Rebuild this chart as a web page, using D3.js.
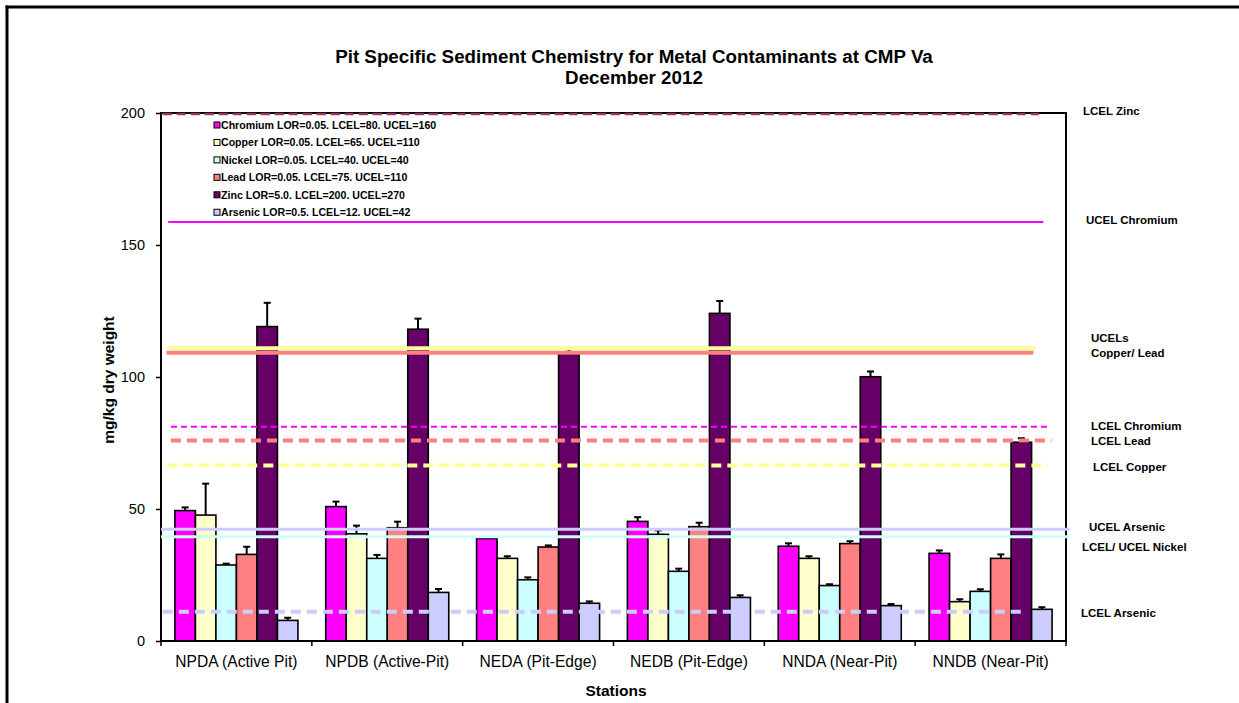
<!DOCTYPE html>
<html><head><meta charset="utf-8">
<script src="https://cdn.jsdelivr.net/npm/d3@7"></script>
<style>
html,body{margin:0;padding:0;background:#fff;}
svg{display:block;font-family:"Liberation Sans",Arial,sans-serif;}
</style></head>
<body>
<svg id="chart" width="1239" height="703"></svg>
<script>
// ---------- DATA ----------
const stations = ["NPDA (Active Pit)", "NPDB (Active-Pit)", "NEDA (Pit-Edge)", "NEDB (Pit-Edge)", "NNDA (Near-Pit)", "NNDB (Near-Pit)"];
const metals = ["Chromium", "Copper", "Nickel", "Lead", "Zinc", "Arsenic"];
const legendLabels = [
  "Chromium LOR=0.05. LCEL=80. UCEL=160",
  "Copper LOR=0.05. LCEL=65. UCEL=110",
  "Nickel LOR=0.05. LCEL=40. UCEL=40",
  "Lead LOR=0.05. LCEL=75. UCEL=110",
  "Zinc LOR=5.0. LCEL=200. UCEL=270",
  "Arsenic LOR=0.5. LCEL=12. UCEL=42"
];
// mean values per station (order of stations)
const chromium = [49.4, 50.9, 38.8, 45.3, 35.9, 33.2];
const copper   = [47.7, 40.6, 31.3, 40.4, 31.3, 14.9];
const nickel   = [28.8, 31.3, 23.2, 26.4, 21.0, 18.8];
const lead     = [32.8, 42.9, 35.6, 43.3, 36.9, 31.3];
const zinc     = [119.1, 118.1, 108.6, 124.1, 100.1, 75.3];
const arsenic  = [7.8, 18.4, 14.3, 16.5, 13.4, 12.0];
// error (upper) values
const chromiumErr = [1.2, 1.9, 0.0, 1.6, 1.1, 1.1];
const copperErr   = [11.9, 3.1, 0.8, 1.5, 0.8, 0.9];
const nickelErr   = [0.5, 1.3, 0.9, 1.0, 0.5, 0.8];
const leadErr     = [2.9, 2.3, 0.6, 1.5, 0.9, 1.5];
const zincErr     = [9.0, 4.0, 1.9, 4.7, 2.0, 1.5];
const arsenicErr  = [1.0, 1.3, 0.7, 0.8, 0.6, 0.8];
const yTicks = [0, 50, 100, 150, 200];
// guideline values (mg/kg)
const refNames  = ["LCEL Zinc", "UCEL Chromium", "UCEL Copper", "UCEL Lead", "LCEL Chromium", "LCEL Lead", "LCEL Copper", "UCEL Arsenic", "LCEL/UCEL Nickel", "LCEL Arsenic"];
const refValues = [199.6, 158.7, 110.9, 109.2, 81.2, 75.9, 66.5, 42.3, 39.5, 11.1];
// right-hand annotations
const annoText  = ["LCEL Zinc", "UCEL Chromium", "UCELs", "Copper/ Lead", "LCEL Chromium", "LCEL Lead", "LCEL Copper", "UCEL Arsenic", "LCEL/ UCEL Nickel", "LCEL Arsenic"];
const annoValue = [200.8, 159.5, 114.8, 109.0, 81.5, 75.8, 66.0, 43.2, 35.5, 10.8];

// ---------- STYLES ----------
const colors = {Chromium:"#FF00FF", Copper:"#FFFFCC", Nickel:"#CCFFFF", Lead:"#FF8080", Zinc:"#660066", Arsenic:"#CCCCFF"};
const refStyles = [
  {color:"#993366", w:2.5, dash:"9,5", x0:0.002, x1:0.97},
  {color:"#FF00FF", w:2, dash:null, x0:0.008, x1:0.975},
  {color:"#FFFF99", w:4, dash:null, x0:0.007, x1:0.966},
  {color:"#FF8080", w:4, dash:null, x0:0.006, x1:0.964},
  {color:"#FF00FF", w:2, dash:"6,4", x0:0.011, x1:0.983},
  {color:"#FF8080", w:4, dash:"10,6", x0:0.011, x1:0.984},
  {color:"#FFFF99", w:4, dash:"10,6", x0:0.007, x1:0.98},
  {color:"#CCCCFF", w:3, dash:null, x0:0.0, x1:1.004},
  {color:"#CCFFFF", w:3, dash:null, x0:0.0, x1:1.004},
  {color:"#CCCCFF", w:4, dash:"10,6", x0:0.002, x1:0.955}
];
const annoX = [1083, 1086, 1091, 1091, 1091, 1091, 1093, 1089, 1082, 1081];

const values = [chromium, copper, nickel, lead, zinc, arsenic];
const errs = [chromiumErr, copperErr, nickelErr, leadErr, zincErr, arsenicErr];

const svg = d3.select("#chart");
const L = 161, R = 1066, T = 113, B = 641;

// outer frame
svg.append("line").attr("x1",5.5).attr("x2",1239).attr("y1",7).attr("y2",7).attr("stroke","#000").attr("stroke-width",3);
svg.append("line").attr("x1",7).attr("x2",7).attr("y1",5.5).attr("y2",703).attr("stroke","#000").attr("stroke-width",3);

const y = d3.scaleLinear().domain([0,200]).range([B,T]);
const x0 = d3.scaleBand().domain(stations).range([L,R]).padding(0);
const x1 = d3.scaleBand().domain(metals).range([0,x0.bandwidth()]).paddingInner(0).paddingOuter(0.678);

// title
svg.append("text").attr("x",634).attr("y",63).attr("text-anchor","middle")
  .attr("font-size",18.8).attr("font-weight","bold").text("Pit Specific Sediment Chemistry for Metal Contaminants at CMP Va");
svg.append("text").attr("x",634).attr("y",84).attr("text-anchor","middle")
  .attr("font-size",18.8).attr("font-weight","bold").text("December 2012");

// bars
const rows = [];
stations.forEach((s,i)=>metals.forEach((m,j)=>rows.push({s,m,v:values[j][i],e:errs[j][i]})));
const g = svg.append("g");
g.selectAll("rect.bar").data(rows).join("rect").attr("class","bar")
  .attr("x",d=>x0(d.s)+x1(d.m)).attr("width",x1.bandwidth())
  .attr("y",d=>y(d.v)).attr("height",d=>B-y(d.v))
  .attr("fill",d=>colors[d.m]).attr("stroke","#000").attr("stroke-width",1.6);
// error bars
const eg = svg.append("g").attr("stroke","#000").attr("stroke-width",2);
rows.filter(d=>d.e>0).forEach(d=>{
  const cx = x0(d.s)+x1(d.m)+x1.bandwidth()/2;
  eg.append("line").attr("x1",cx).attr("x2",cx).attr("y1",y(d.v)).attr("y2",y(d.v+d.e));
  eg.append("line").attr("x1",cx-3.5).attr("x2",cx+3.5).attr("y1",y(d.v+d.e)).attr("y2",y(d.v+d.e));
});

// plot frame & axes
svg.append("rect").attr("x",L).attr("y",T).attr("width",R-L).attr("height",B-T)
  .attr("fill","none").attr("stroke","#000").attr("stroke-width",2);

const yAxis = d3.axisLeft(y).tickValues(yTicks).tickSize(5).tickPadding(11);
const ya = svg.append("g").attr("transform",`translate(${L},0)`).call(yAxis);
ya.select(".domain").remove();
ya.selectAll("line").attr("stroke","#000").attr("stroke-width",1.5);
ya.selectAll("text").attr("font-size",14.5).attr("font-family","Liberation Sans, Arial, sans-serif").attr("fill","#000");

const xAxis = d3.axisBottom(x0).tickSize(0).tickPadding(15);
const xa = svg.append("g").attr("transform",`translate(0,${B})`).call(xAxis);
xa.select(".domain").remove();
xa.selectAll("text").attr("font-size",15.6).attr("font-family","Liberation Sans, Arial, sans-serif").attr("fill","#000");
// group separator ticks
const sepG = svg.append("g");
stations.forEach(s=>{
  sepG.append("line").attr("x1",x0(s)).attr("x2",x0(s)).attr("y1",B).attr("y2",B+5).attr("stroke","#000").attr("stroke-width",1.5);
});
sepG.append("line").attr("x1",R).attr("x2",R).attr("y1",B).attr("y2",B+5).attr("stroke","#000").attr("stroke-width",1.5);

// axis titles
svg.append("text").attr("transform",`translate(114,${380}) rotate(-90)`).attr("text-anchor","middle")
  .attr("font-size",15.5).attr("font-weight","bold").text("mg/kg dry weight");
svg.append("text").attr("x",616).attr("y",696).attr("text-anchor","middle")
  .attr("font-size",15.5).attr("font-weight","bold").text("Stations");

// reference lines (drawn over bars)
const rg = svg.append("g");
refValues.forEach((v,i)=>{
  const st = refStyles[i];
  rg.append("line").attr("x1",L+(R-L)*st.x0).attr("x2",L+(R-L)*st.x1)
    .attr("y1",y(v)).attr("y2",y(v)).attr("stroke",st.color).attr("stroke-width",st.w)
    .attr("stroke-dasharray",st.dash);
});

// legend
const lg = svg.append("g");
legendLabels.forEach((t,i)=>{
  const yy = 125 + i*17.45;
  lg.append("rect").attr("x",214).attr("y",yy-3).attr("width",6).attr("height",6)
    .attr("fill",colors[metals[i]]).attr("stroke","#000").attr("stroke-width",1);
  lg.append("text").attr("x",221).attr("y",yy).attr("dy","0.35em")
    .attr("font-size",10.6).attr("font-weight","bold").text(t);
});

// annotations
annoText.forEach((t,i)=>{
  svg.append("text").attr("x",annoX[i]).attr("y",y(annoValue[i])).attr("dy","0.35em")
    .attr("font-size",11.5).attr("font-weight","bold").text(t);
});
</script>
</body></html>
